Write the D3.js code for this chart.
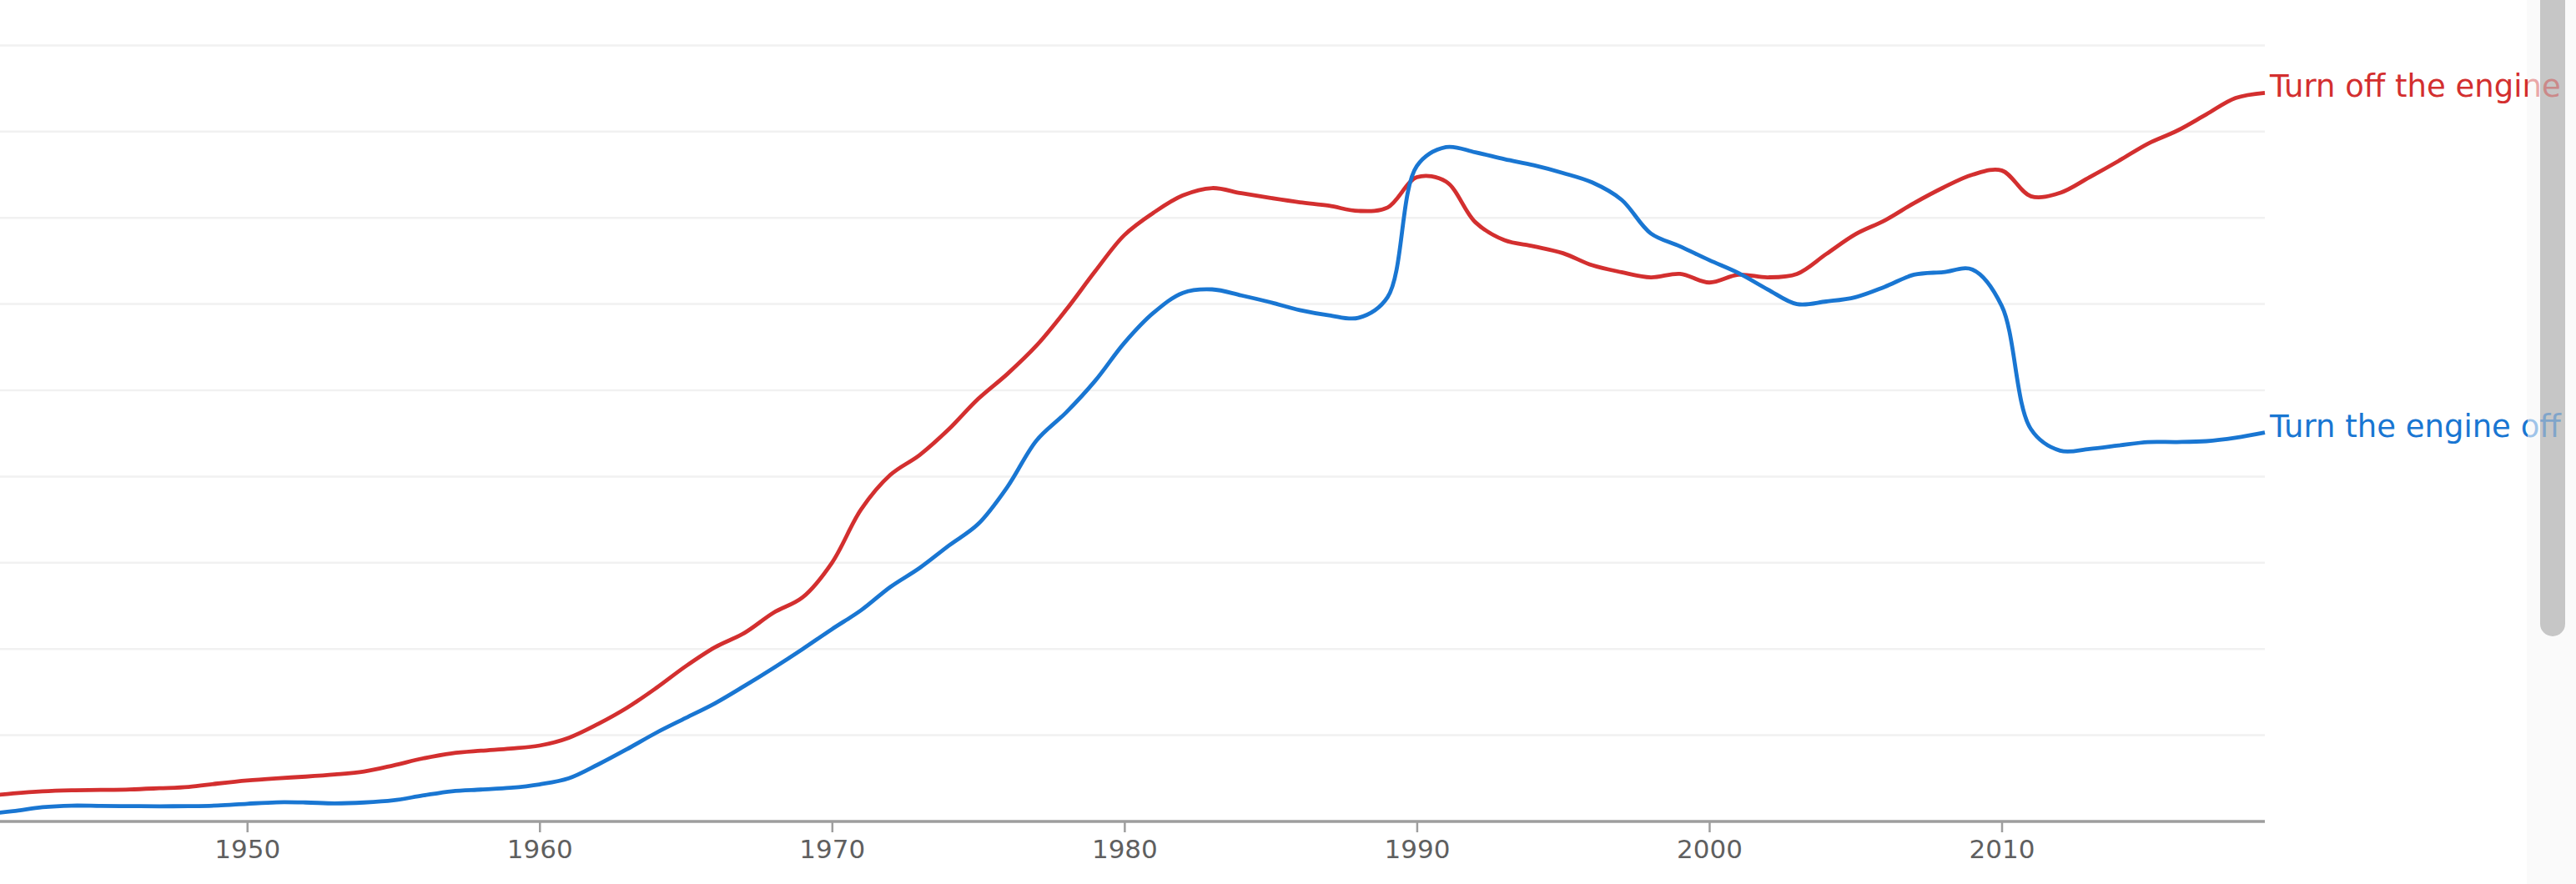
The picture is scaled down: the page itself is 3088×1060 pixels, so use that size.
<!DOCTYPE html>
<html>
<head>
<meta charset="utf-8">
<script src="https://cdn.jsdelivr.net/npm/d3@7"></script>
<style>
  html, body { margin: 0; padding: 0; background: #ffffff; overflow: hidden; }
  svg { display: block; }
</style>
</head>
<body>
<svg id="chart" width="3088" height="1060"></svg>
<script>
// ---- data ----
const years = d3.range(1941, 2020);
const seriesNames = ["Turn off the engine", "Turn the engine off"];
const turnOffTheEngine = [
  0.29, 0.325, 0.35, 0.362, 0.366, 0.372, 0.385, 0.40, 0.44,          // 1941-1949
  0.475, 0.50, 0.52, 0.545, 0.58, 0.65, 0.73, 0.79, 0.82, 0.845,       // 1950-1959
  0.88, 0.97, 1.13, 1.32, 1.55, 1.80, 2.02, 2.185, 2.42, 2.60,         // 1960-1969
  3.00, 3.62, 4.02, 4.25, 4.55, 4.90, 5.19, 5.52, 5.93, 6.38,          // 1970-1979
  6.80, 7.06, 7.26, 7.345, 7.285, 7.23, 7.18, 7.14, 7.08, 7.12,        // 1980-1989
  7.47, 7.42, 6.95, 6.74, 6.67, 6.59, 6.45, 6.37, 6.31, 6.35,          // 1990-1999
  6.25, 6.34, 6.31, 6.35, 6.58, 6.81, 6.97, 7.17, 7.35, 7.50,          // 2000-2009
  7.55, 7.25, 7.29, 7.47, 7.66, 7.86, 8.01, 8.20, 8.39, 8.45           // 2010-2019
];
const turnTheEngineOff = [
  0.085, 0.12, 0.165, 0.183, 0.18, 0.178, 0.176, 0.178, 0.185,         // 1941-1949
  0.205, 0.222, 0.22, 0.21, 0.22, 0.245, 0.30, 0.35, 0.37, 0.39,       // 1950-1959
  0.43, 0.50, 0.66, 0.84, 1.03, 1.20, 1.37, 1.57, 1.78, 2.00,          // 1960-1969
  2.23, 2.45, 2.72, 2.94, 3.20, 3.45, 3.88, 4.42, 4.74, 5.11,          // 1970-1979
  5.55, 5.90, 6.13, 6.17, 6.10, 6.02, 5.93, 5.87, 5.84, 6.08,          // 1980-1989
  7.60, 7.82, 7.76, 7.68, 7.61, 7.52, 7.41, 7.21, 6.82, 6.67,          // 1990-1999
  6.51, 6.36, 6.17, 6.00, 6.03, 6.08, 6.20, 6.34, 6.37, 6.40,          // 2000-2009
  5.98, 4.55, 4.30, 4.32, 4.36, 4.40, 4.40, 4.41, 4.45, 4.51           // 2010-2019
];
const xTickValues = [1950, 1960, 1970, 1980, 1990, 2000, 2010];
const gridValues = [1, 2, 3, 4, 5, 6, 7, 8, 9];
const seriesColors = ["#d32f2f", "#1976d2"];

// ---- layout ----
const W = 3088, H = 1060;
const plotRight = 2715, axisY = 985, topY = 54.4;
const svg = d3.select("#chart");

const x = d3.scaleLinear().domain([1941.55, 2019]).range([0, plotRight]);
const y = d3.scaleLinear().domain([0, 9]).range([axisY, topY]);

svg.append("rect").attr("width", W).attr("height", H).attr("fill", "#ffffff");

// gridlines
svg.append("g").selectAll("line").data(gridValues).join("line")
  .attr("x1", 0).attr("x2", plotRight)
  .attr("y1", d => y(d)).attr("y2", d => y(d))
  .attr("stroke", "#f1f1f1").attr("stroke-width", 2.5);

// clips
const defs = svg.append("defs");
defs.append("clipPath").attr("id", "plotClip")
  .append("rect").attr("x", 0).attr("y", 0).attr("width", plotRight + 1).attr("height", H);
defs.append("clipPath").attr("id", "textFull")
  .append("rect").attr("x", 0).attr("y", 0).attr("width", 3030).attr("height", H);
defs.append("clipPath").attr("id", "textFade")
  .append("rect").attr("x", 3030).attr("y", 0).attr("width", W - 3030).attr("height", H);

// axis
const xAxis = d3.axisBottom(x).tickValues(xTickValues).tickFormat(d3.format("d"))
  .tickSizeInner(13).tickSizeOuter(0).tickPadding(9);
const gAxis = svg.append("g").attr("transform", `translate(0,${axisY})`).call(xAxis);
gAxis.select(".domain").remove();
gAxis.selectAll(".tick line").attr("stroke", "#9e9e9e").attr("stroke-width", 2.5);
gAxis.selectAll(".tick text").attr("fill", "#5f5f5f")
  .attr("font-family", "DejaVu Sans").attr("font-size", 31);
svg.append("line").attr("x1", 0).attr("x2", plotRight).attr("y1", axisY).attr("y2", axisY)
  .attr("stroke", "#9e9e9e").attr("stroke-width", 3.5);

// lines
const seriesData = [turnOffTheEngine, turnTheEngineOff];
const line = d3.line().x((d, i) => x(years[i])).y(d => y(d)).curve(d3.curveCatmullRom.alpha(0.5));
const gLines = svg.append("g").attr("clip-path", "url(#plotClip)");
seriesData.forEach((vals, k) => {
  gLines.append("path").datum(vals).attr("d", line)
    .attr("fill", "none").attr("stroke", seriesColors[k]).attr("stroke-width", 4.8)
    .attr("stroke-linejoin", "round");
});

// scrollbar track + thumb
svg.append("rect").attr("x", 3029).attr("y", 0).attr("width", W - 3029).attr("height", H)
  .attr("fill", "#fafafa");
svg.append("rect").attr("x", 3045).attr("y", -30).attr("width", 30).attr("height", 793)
  .attr("rx", 15).attr("fill", "#c6c6c6");

// series labels
function addLabels(clipId, opacity) {
  const g = svg.append("g").attr("clip-path", `url(#${clipId})`).attr("opacity", opacity);
  seriesData.forEach((vals, k) => {
    g.append("text")
      .attr("x", plotRight + 6)
      .attr("y", y(vals[vals.length - 1]) + 5)
      .attr("fill", seriesColors[k])
      .attr("font-family", "DejaVu Sans")
      .attr("font-size", 37)
      .text(seriesNames[k]);
  });
}
addLabels("textFull", 1);
addLabels("textFade", 0.4);
</script>
</body>
</html>
